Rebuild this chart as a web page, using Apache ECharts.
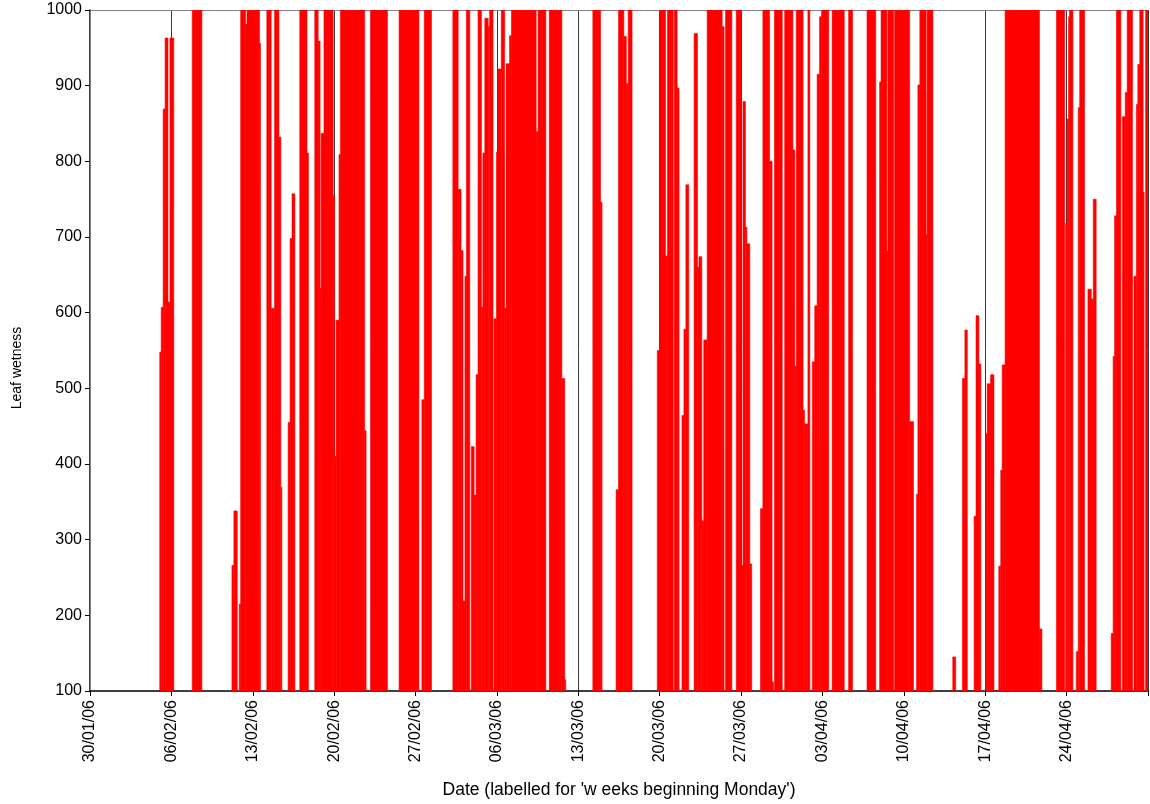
<!DOCTYPE html>
<html>
<head>
<meta charset="utf-8">
<title>Leaf wetness</title>
<script src="https://cdn.jsdelivr.net/npm/echarts@6/dist/echarts.min.js"></script>
<style>
  html, body { margin: 0; padding: 0; background: #fff; }
  #chart { width: 1150px; height: 804px; }
</style>
</head>
<body>
<div id="chart"></div>
<script>
// Leaf wetness readings, 2006. Each entry is a change point: [ 'MM-DD HH', value ].
// A reading holds until the next entry; 0 means dry (below the axis floor).
const febReadings = [
  ['01-30 00', 0],
  ['02-05 00', 548], ['02-05 03', 607], ['02-05 07', 869], ['02-05 11', 963], ['02-05 17', 614], ['02-05 21', 963], ['02-06 05', 0],
  ['02-07 19', 1000], ['02-08 15', 0],
  ['02-11 05', 266], ['02-11 09', 338], ['02-11 16', 0],
  ['02-11 20', 215], ['02-11 23', 1000], ['02-12 09', 981], ['02-12 12', 1000], ['02-13 14', 956], ['02-13 16', 0],
  ['02-14 05', 1000], ['02-14 14', 606], ['02-14 21', 1000], ['02-15 06', 832], ['02-15 10', 369], ['02-15 12', 0],
  ['02-16 01', 455], ['02-16 05', 698], ['02-16 09', 757], ['02-16 15', 0],
  ['02-17 01', 1000], ['02-17 16', 811], ['02-17 19', 0],
  ['02-18 08', 1000], ['02-18 15', 959], ['02-18 19', 632], ['02-18 21', 837], ['02-19 03', 1000], ['02-19 22', 755],
  ['02-20 01', 410], ['02-20 04', 590], ['02-20 10', 809], ['02-20 13', 1000], ['02-22 15', 444], ['02-22 18', 0],
  ['02-23 03', 1000], ['02-24 14', 0],
  ['02-25 14', 1000], ['02-27 07', 0],
  ['02-27 13', 485], ['02-27 18', 1000], ['02-28 09', 0]
];

const marReadings = [
  ['03-02 05', 1000], ['03-02 16', 763], ['03-02 22', 682], ['03-03 02', 219], ['03-03 06', 648], ['03-03 09', 1000], ['03-03 16', 0],
  ['03-03 19', 423], ['03-04 01', 359], ['03-04 05', 518], ['03-04 09', 1000], ['03-04 16', 607], ['03-04 19', 811], ['03-04 23', 989],
  ['03-05 06', 978], ['03-05 09', 1000], ['03-05 16', 0],
  ['03-05 18', 592], ['03-05 23', 812], ['03-06 02', 922], ['03-06 09', 1000], ['03-06 16', 606], ['03-06 19', 929], ['03-07 02', 966],
  ['03-07 06', 1000], ['03-09 09', 839], ['03-09 13', 1000], ['03-10 05', 0],
  ['03-10 12', 1000], ['03-11 14', 513], ['03-11 20', 115], ['03-11 22', 0],
  ['03-14 06', 1000], ['03-14 22', 746], ['03-15 01', 0],
  ['03-16 06', 366], ['03-16 11', 1000], ['03-16 22', 965], ['03-17 03', 903], ['03-17 07', 1000], ['03-17 15', 0],
  ['03-19 19', 550], ['03-20 00', 1000], ['03-20 12', 675], ['03-20 16', 1000], ['03-21 04', 0], ['03-21 06', 1000], ['03-21 12', 897], ['03-21 16', 0],
  ['03-21 22', 464], ['03-22 02', 578], ['03-22 06', 769], ['03-22 12', 0],
  ['03-22 23', 969], ['03-23 06', 660], ['03-23 09', 674], ['03-23 15', 325], ['03-23 19', 564], ['03-24 02', 1000], ['03-25 09', 978], ['03-25 13', 0],
  ['03-25 16', 1000], ['03-26 05', 0],
  ['03-26 14', 1000], ['03-27 01', 266], ['03-27 04', 879], ['03-27 09', 713], ['03-27 12', 691], ['03-27 18', 268], ['03-27 22', 0],
  ['03-28 16', 341], ['03-28 21', 1000], ['03-29 11', 800], ['03-29 16', 112], ['03-29 19', 0],
  ['03-29 21', 1000], ['03-30 13', 0],
  ['03-30 18', 1000], ['03-31 11', 815], ['03-31 15', 529], ['03-31 18', 1000], ['04-01 08', 471], ['04-01 11', 453], ['04-01 18', 1000], ['04-01 22', 0]
];

const aprReadings = [
  ['04-02 03', 535], ['04-02 08', 609], ['04-02 13', 915], ['04-02 18', 991], ['04-02 22', 1000], ['04-03 13', 0],
  ['04-03 20', 1000], ['04-04 21', 0],
  ['04-05 06', 1000], ['04-05 14', 0],
  ['04-06 20', 1000], ['04-07 14', 0],
  ['04-07 22', 905], ['04-08 01', 1000], ['04-08 13', 681], ['04-08 15', 1000], ['04-09 03', 0], ['04-09 05', 1000], ['04-10 12', 456], ['04-10 20', 0],
  ['04-11 02', 360], ['04-11 05', 901], ['04-11 09', 1000], ['04-11 22', 703], ['04-12 00', 1000], ['04-12 12', 0],
  ['04-14 05', 145], ['04-14 11', 0],
  ['04-15 01', 513], ['04-15 06', 577], ['04-15 11', 0],
  ['04-16 01', 331], ['04-16 05', 596], ['04-16 11', 532], ['04-16 15', 0],
  ['04-17 01', 440], ['04-17 04', 506], ['04-17 11', 518], ['04-17 18', 0],
  ['04-18 04', 265], ['04-18 08', 392], ['04-18 11', 531], ['04-18 17', 1000], ['04-21 16', 182], ['04-21 21', 0],
  ['04-23 03', 1000], ['04-23 20', 0],
  ['04-23 22', 718], ['04-24 01', 856], ['04-24 04', 991], ['04-24 06', 1000], ['04-24 13', 0],
  ['04-24 20', 152], ['04-25 00', 871], ['04-25 03', 1000], ['04-25 13', 0],
  ['04-25 20', 631], ['04-26 03', 618], ['04-26 07', 750], ['04-26 13', 0],
  ['04-27 20', 176], ['04-28 00', 542], ['04-28 03', 728], ['04-28 07', 1000], ['04-28 16', 0],
  ['04-28 19', 859], ['04-29 01', 891], ['04-29 05', 1000], ['04-29 16', 0],
  ['04-29 19', 648], ['04-30 00', 875], ['04-30 03', 928], ['04-30 07', 1000], ['04-30 14', 759], ['04-30 16', 0],
  ['04-30 19', 1000], ['05-01 00', 1000]
];

// Week labels (Mondays), one per 7-day tick
const weekLabels = ['30/01/06', '06/02/06', '13/02/06', '20/02/06', '27/02/06', '06/03/06', '13/03/06',
                    '20/03/06', '27/03/06', '03/04/06', '10/04/06', '17/04/06', '24/04/06'];

const yTicks = [100, 1000, 100]; // min, max, step

// x is measured in days from Monday 30/01/2006
const START = Date.UTC(2006, 0, 30);
function dayOffset(stamp) {
  const [md, hh] = stamp.split(' ');
  const [m, d] = md.split('-').map(Number);
  return (Date.UTC(2006, m - 1, d, Number(hh)) - START) / 86400000;
}

const changes = febReadings.concat(marReadings, aprReadings).map(([s, v]) => [dayOffset(s), v]);
const DAYS = weekLabels.length * 7; // 91 days, to 01/05/06

// One column per held reading: [from, to, value]; dry spells sit below the axis floor
const columns = [];
for (let i = 0; i < changes.length - 1; i++) {
  const [t0, v] = changes[i];
  if (v > yTicks[0]) columns.push([t0, changes[i + 1][0], v]);
}
const last = changes[changes.length - 1];
if (last[1] > yTicks[0] && last[0] < DAYS) columns.push([last[0], DAYS, last[1]]);

const font = 'Liberation Sans, Arial, sans-serif';
const chart = echarts.init(document.getElementById('chart'), null, { renderer: 'canvas' });

chart.setOption({
  animation: false,
  backgroundColor: '#ffffff',
  grid: { left: 90, right: 2, top: 10, bottom: 113, containLabel: false },
  xAxis: [{
    type: 'value',
    min: 0, max: DAYS, interval: 7,
    axisLine: { show: true, onZero: false, lineStyle: { color: '#000', width: 1.5 } },
    axisTick: { show: true, length: 5, lineStyle: { color: '#000', width: 1 } },
    splitLine: { show: true, lineStyle: { color: '#3a3a3a', width: 1 } },
    axisLabel: {
      rotate: 90, margin: 9, fontFamily: font, fontSize: 16, color: '#000',
      formatter: v => weekLabels[Math.round(v / 7)] || ''
    },
    name: "Date (labelled for 'w eeks beginning Monday')",
    nameLocation: 'middle', nameGap: 90,
    nameTextStyle: { fontFamily: font, fontSize: 17.5, color: '#000' }
  }, {
    // plot-area frame along the top
    type: 'value', position: 'top',
    min: 0, max: DAYS,
    axisLine: { show: true, lineStyle: { color: '#808080', width: 1 } },
    axisTick: { show: false }, axisLabel: { show: false }, splitLine: { show: false }
  }],
  yAxis: [{
    type: 'value',
    min: yTicks[0], max: yTicks[1], interval: yTicks[2],
    axisLine: { show: true, onZero: false, lineStyle: { color: '#000', width: 1.5 } },
    axisTick: { show: true, length: 5, lineStyle: { color: '#000', width: 1 } },
    splitLine: { show: false },
    axisLabel: { margin: 8, fontFamily: font, fontSize: 16, color: '#000', formatter: v => String(v) }
  }, {
    // plot-area frame along the right
    type: 'value', position: 'right',
    min: yTicks[0], max: yTicks[1],
    axisLine: { show: true, lineStyle: { color: '#808080', width: 1 } },
    axisTick: { show: false }, axisLabel: { show: false }, splitLine: { show: false }
  }],
  graphic: [{
    type: 'text',
    x: 17, y: 368, rotation: Math.PI / 2,
    style: {
      text: 'Leaf wetness', fontFamily: font, fontSize: 14, fill: '#000',
      align: 'center', verticalAlign: 'middle'
    }
  }],
  series: [{
    name: 'Leaf wetness',
    type: 'custom',
    coordinateSystem: 'cartesian2d',
    xAxisIndex: 0, yAxisIndex: 0,
    data: columns,
    encode: { x: [0, 1], y: 2 },
    clip: true,
    z: 2,
    renderItem: (params, api) => {
      const top = api.coord([api.value(0), api.value(2)]);
      const base = api.coord([api.value(1), yTicks[0]]);
      return {
        type: 'rect',
        shape: { x: top[0], y: top[1], width: base[0] - top[0], height: base[1] - top[1] },
        style: { fill: '#ff0000', stroke: '#ff0000', lineWidth: 0.6 }
      };
    }
  }]
});
</script>
</body>
</html>
